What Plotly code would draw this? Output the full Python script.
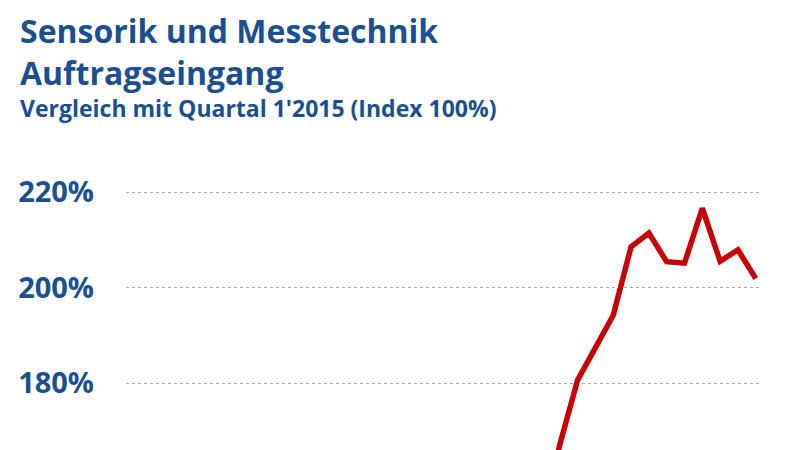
import plotly.graph_objects as go

# Quartale 1'2015 bis 4'2023
quarters = [f"{q}'{y}" for y in range(2015, 2024) for q in range(1, 5)]

# Index-Werte (1'2015 = 100%), obere Werte
index_values = [
    100, 102, 99, 104, 103, 106, 104, 108,
    112, 115, 113, 118, 121, 119, 117, 116,
    114, 112, 110, 108, 105, 95, 118, 150,
    167.1, 180.6, 187.4, 194.2, 208.5, 211.4, 205.4, 205.1,
    216.6, 205.5, 207.9, 201.9,
]

y_ticks = [160, 180, 200, 220]
y_tick_labels = ["160%", "180%", "200%", "220%"]

blue = "#1c4f91"
red = "#c8000a"

# page has an 8px body margin, so the figure is 8px smaller than the window
W, H = 791, 442
L, R, T = 118, 37, 142

fig = go.Figure()
fig.add_trace(go.Scatter(
    x=list(range(len(quarters))),
    y=index_values,
    mode="lines",
    line=dict(color=red, width=5.5),
    customdata=quarters,
    hovertemplate="%{customdata}: %{y:.1f}%<extra></extra>",
))

fig.update_layout(
    width=W,
    height=H,
    margin=dict(l=L, r=R, t=T, b=0),
    paper_bgcolor="white",
    plot_bgcolor="white",
    showlegend=False,
    font=dict(family="Open Sans", color=blue),
)

fig.update_xaxes(
    range=[-0.35, 35.35],
    showgrid=False,
    showticklabels=False,
    zeroline=False,
    showline=False,
)

fig.update_yaxes(
    range=[165.97, 228.8],
    tickvals=y_ticks,
    ticktext=y_tick_labels,
    tickfont=dict(family="Open Sans", size=29, color=blue, weight="bold"),
    ticklabelstandoff=31,
    gridcolor="#a8a8a8",
    griddash="dot",
    gridwidth=1,
    zeroline=False,
    showline=False,
)

# Titel und Untertitel als Annotationen (Pixelpositionen umgerechnet)
def px(xpx):
    return (xpx - L) / (W - L - R)

def py(ypx):
    return (H - ypx) / (H - T)

title_lines = [
    ("<b>Sensorik und Messtechnik</b>", 23, 32),
    ("<b>Auftragseingang</b>", 64, 32),
    ("<b>Vergleich mit Quartal 1'2015 (Index 100%)</b>", 100, 23),
]
for text, ypos, size in title_lines:
    fig.add_annotation(text=text, x=px(11), y=py(ypos), xref="paper", yref="paper",
                       xanchor="left", yanchor="middle", showarrow=False, borderpad=0,
                       font=dict(family="Open Sans", size=size, color=blue))

fig.write_html("out.html")
